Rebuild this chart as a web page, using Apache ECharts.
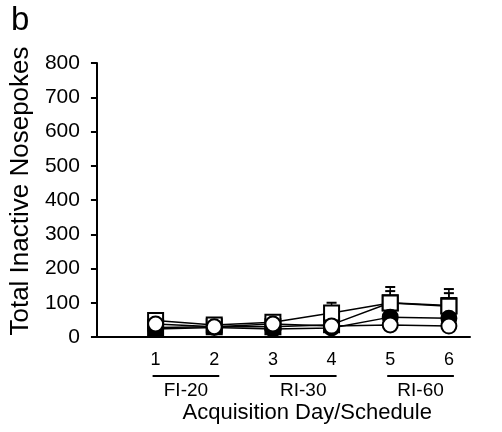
<!DOCTYPE html>
<html>
<head>
<meta charset="utf-8">
<script src="https://cdn.jsdelivr.net/npm/echarts@6/dist/echarts.min.js"></script>
<style>
  html, body { margin: 0; padding: 0; background: #fff; }
  #chart { width: 502px; height: 432px; }
</style>
</head>
<body>
<div id="chart"></div>
<script>
// acquisition days
var days = [1, 2, 3, 4, 5, 6];
var yTicks = [0, 100, 200, 300, 400, 500, 600, 700, 800];

// inactive nosepokes per group
var filledSquare = [28, 30, 30, 36, 100, 92];
var openSquare = [48, 35, 43, 70, 99, 90];
var filledCircle = [23, 28, 23, 26, 58, 55];
var openCircle = [38, 30, 38, 32, 35, 32];

// upper error (SEM)
var filledSquareErr = [0, 0, 0, 0, 34, 36];
var openSquareErr = [0, 0, 0, 30, 47, 50];

// schedule groups under the day labels
var groups = [
  { name: 'FI-20', from: 1, to: 2 },
  { name: 'RI-30', from: 3, to: 4 },
  { name: 'RI-60', from: 5, to: 6 }
];

function pairs(vals) {
  return days.map(function (d, i) { return [d, vals[i]]; });
}
function errPairs(vals, err) {
  return days.map(function (d, i) { return [d, vals[i], vals[i] + err[i]]; })
    .filter(function (p) { return p[2] > p[1]; });
}

var chart = echarts.init(document.getElementById('chart'));
var font = 'Liberation Sans, Arial, sans-serif';

function lineSeries(name, vals, symbol, fill, size) {
  return {
    name: name,
    type: 'line',
    data: pairs(vals),
    symbol: symbol,
    symbolSize: size,
    showAllSymbol: true,
    lineStyle: { color: '#000', width: 1.5 },
    itemStyle: { color: fill, borderColor: '#000', borderWidth: 2 },
    z: 3,
    animation: false
  };
}

function errSeries(vals, err) {
  return {
    type: 'custom',
    data: errPairs(vals, err),
    z: 2,
    silent: true,
    animation: false,
    renderItem: function (params, api) {
      var p0 = api.coord([api.value(0), api.value(1)]);
      var p1 = api.coord([api.value(0), api.value(2)]);
      return {
        type: 'group',
        children: [
          { type: 'line', shape: { x1: p0[0], y1: p0[1], x2: p1[0], y2: p1[1] }, style: { stroke: '#000', lineWidth: 1.5 } },
          { type: 'line', shape: { x1: p1[0] - 5, y1: p1[1], x2: p1[0] + 5, y2: p1[1] }, style: { stroke: '#000', lineWidth: 2 } }
        ]
      };
    }
  };
}

chart.setOption({
  backgroundColor: '#fff',
  animation: false,
  title: {
    text: 'b',
    left: 6,
    top: -1,
    textStyle: { fontFamily: font, fontSize: 33, fontWeight: 'normal', color: '#000' }
  },
  grid: { left: 95, right: 32, top: 63, bottom: 95 },
  xAxis: {
    type: 'value',
    min: 0,
    max: 6.36,
    interval: 1,
    splitLine: { show: false },
    axisTick: { show: false },
    axisLine: { lineStyle: { color: '#000', width: 2 } },
    axisLabel: {
      color: '#000',
      fontFamily: font,
      fontSize: 18,
      margin: 14,
      showMaxLabel: false,
      formatter: function (v) { return days.indexOf(v) >= 0 ? String(v) : ''; }
    }
  },
  yAxis: {
    type: 'value',
    min: 0,
    max: 800,
    interval: 100,
    name: 'Total Inactive Nosepokes',
    nameLocation: 'middle',
    nameGap: 60,
    nameTextStyle: { fontFamily: font, fontSize: 26, color: '#000', padding: [0, 0, 0, 18] },
    splitLine: { show: false },
    axisLine: { show: true, lineStyle: { color: '#000', width: 2 } },
    axisTick: { show: true, length: 6, lineStyle: { color: '#000', width: 2 } },
    axisLabel: {
      color: '#000',
      fontFamily: font,
      fontSize: 21,
      margin: 17,
      formatter: function (v) { return yTicks.indexOf(v) >= 0 ? String(v) : ''; }
    }
  },
  series: [
    errSeries(filledSquare, filledSquareErr),
    errSeries(openSquare, openSquareErr),
    lineSeries('filled square', filledSquare, 'rect', '#000', 15),
    lineSeries('open square', openSquare, 'rect', '#fff', 15),
    lineSeries('filled circle', filledCircle, 'circle', '#000', 15),
    lineSeries('open circle', openCircle, 'circle', '#fff', 15)
  ]
});

// group underlines, schedule names and the axis title placed from axis scale
var baseY = chart.convertToPixel({ yAxisIndex: 0 }, 0);
var graphics = [];
groups.forEach(function (g) {
  var x1 = chart.convertToPixel({ xAxisIndex: 0 }, g.from) - 3;
  var x2 = chart.convertToPixel({ xAxisIndex: 0 }, g.to) + 5;
  graphics.push({
    type: 'line',
    shape: { x1: x1, y1: baseY + 39, x2: x2, y2: baseY + 39 },
    style: { stroke: '#000', lineWidth: 2 }
  });
  graphics.push({
    type: 'text',
    x: (x1 + x2) / 2,
    y: baseY + 54,
    style: { text: g.name, fontFamily: font, fontSize: 19, fill: '#000', align: 'center', verticalAlign: 'middle' }
  });
});
var midX = (chart.convertToPixel({ xAxisIndex: 0 }, 1) + chart.convertToPixel({ xAxisIndex: 0 }, 6)) / 2 + 5;
graphics.push({
  type: 'text',
  x: midX,
  y: baseY + 76,
  style: { text: 'Acquisition Day/Schedule', fontFamily: font, fontSize: 22, fill: '#000', align: 'center', verticalAlign: 'middle' }
});
chart.setOption({ graphic: graphics });
</script>
</body>
</html>
